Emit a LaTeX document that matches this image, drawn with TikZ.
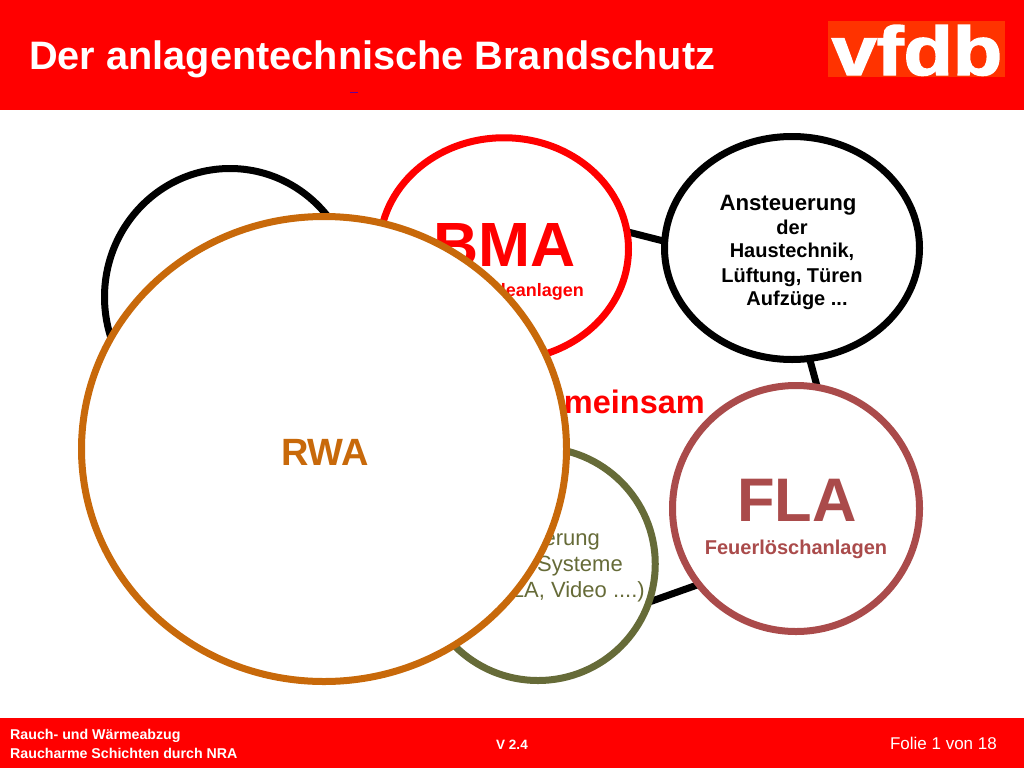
\documentclass[tikz,border=0pt]{standalone}
\usepackage{fontspec}
\setmainfont{Liberation Sans}
\newfontfamily\logofont[BoldFeatures={FakeBold=2}]{Liberation Sans}
\usepackage{tikz}
\usetikzlibrary{shapes.geometric, backgrounds}

\definecolor{vfdbred}{RGB}{255,0,0}
\definecolor{logored}{RGB}{255,51,0}
\definecolor{flared}{RGB}{170,75,75}
\definecolor{rwaorange}{RGB}{200,105,10}
\definecolor{steuolive}{RGB}{102,107,56}

\newcommand{\pxfont}[1]{\fontsize{#1}{#1}\selectfont}

\tikzset{
    bubble/.style={ellipse, draw=black, line width=7pt, fill=white, inner sep=0pt, outer sep=0pt},
    link/.style={line width=7pt, black},
    foottext/.style={white, font=\bfseries\pxfont{14.2}, anchor=west, inner sep=0pt},
    hauslabel/.style={font=\bfseries\pxfont{20}, anchor=base, inner sep=0pt},
    steulabel/.style={steuolive, font=\pxfont{22}, anchor=base east, inner sep=0pt}
}

\begin{document}
\begin{tikzpicture}[x=1pt, y=-1pt]
        \useasboundingbox (0,0) rectangle (1024,768);

        % Header and footer
        \fill[vfdbred] (0,0) rectangle (1024,110);
        \fill[vfdbred] (0,718) rectangle (1024,768);
        \node[white, font=\bfseries\pxfont{39.7}, anchor=base west, inner sep=0pt] (title) at (29,70) {Der anlagentechnische Brandschutz};
        \draw[blue!60!red, line width=1pt] (350,92.5) -- (358,92.5);

        % Logo
        \fill[logored] (828,21) rectangle (1005,77);
        \node[white, font=\logofont\bfseries\pxfont{69}, xscale=1.17, anchor=base, inner sep=0pt] (logo) at (917,75) {vfdb};

        % Circles
        \node[bubble, minimum width=251pt, minimum height=257pt] (sonst) at (230,297) {};
        \node[bubble, draw=vfdbred, minimum width=249pt, minimum height=222.5pt] (bma) at (504,249) {};
        \node[bubble, minimum width=255pt, minimum height=223pt] (anst) at (792,248) {};
        \node[bubble, draw=steuolive, minimum width=234.5pt, minimum height=233pt] (steu) at (538,564) {};
        \node[bubble, draw=flared, minimum width=247pt, minimum height=246pt] (fla) at (796,508.5) {};

        % Connectors
        \begin{scope}[on background layer]
            \draw[link] (bma.8) -- (anst.177);
            \draw[link] (anst.-81) -- (fla.80);
            \draw[link] (steu.-19) -- (fla.218);
        \end{scope}

        % Labels
        \node[vfdbred, font=\bfseries\pxfont{62.5}, anchor=base, inner sep=0pt] (bmatext) at (504.5,266) {BMA};
        \node[vfdbred, font=\bfseries\pxfont{18}, anchor=base east, inner sep=0pt] (bmasub) at (584,296) {Brandmeldeanlagen};
        \node[vfdbred, font=\bfseries\pxfont{32.5}, anchor=east, inner sep=0pt] (gemeinsam) at (705,402) {Gemeinsam};

        \node[hauslabel, font=\bfseries\pxfont{22.2}] (ansttext) at (788,210) {Ansteuerung};
        \node[hauslabel] (der) at (792,234) {der};
        \node[hauslabel] (haus) at (792,257) {Haustechnik,};
        \node[hauslabel] (luft) at (792,282) {Lüftung, Türen};
        \node[hauslabel] (auf) at (797,305) {Aufzüge ...};

        \node[steulabel] (steua) at (600,545) {Ansteuerung};
        \node[steulabel] (steub) at (623,571) {der Systeme};
        \node[steulabel] (steuc) at (645,597) {(ELA, Video ....)};

        \node[flared, font=\bfseries\pxfont{61.5}, inner sep=0pt] (flatext) at (797,500) {FLA};
        \node[flared, font=\bfseries\pxfont{20}, inner sep=0pt] (flasub) at (796,549) {Feuerlöschanlagen};

        % RWA on top of the others
        \node[bubble, draw=rwaorange, minimum width=485pt, minimum height=465pt] (rwa) at (324,449) {};
        \node[rwaorange, font=\bfseries\pxfont{38}, inner sep=0pt] (rwatext) at (325,452) {RWA};

        % Footer texts
        \node[foottext] (fuss) at (10,736) {Rauch- und Wärmeabzug};
        \node[foottext] (fussb) at (10,753) {Raucharme Schichten durch NRA};
        \node[white, font=\bfseries\pxfont{13.5}, inner sep=0pt] (version) at (512,745) {V 2.4};
        \node[white, font=\pxfont{17}, anchor=east, inner sep=0pt] (folie) at (997,743) {Folie 1 von 18};
    \end{tikzpicture}
\end{document}
